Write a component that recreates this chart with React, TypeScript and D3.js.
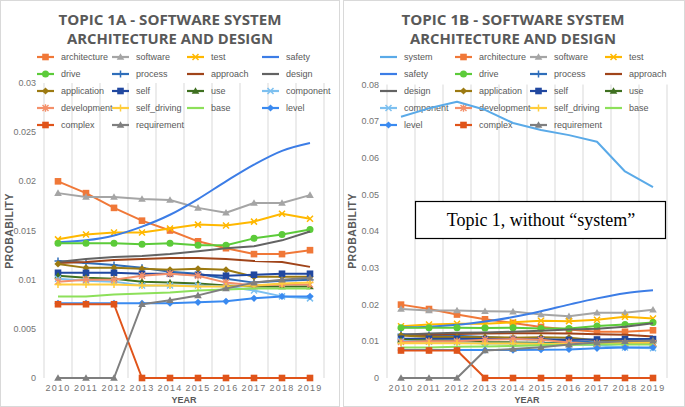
import React from "react";
import * as d3 from "d3";

const years = [2010, 2011, 2012, 2013, 2014, 2015, 2016, 2017, 2018, 2019];

const system = [0.0712, 0.0735, 0.0753, 0.0731, 0.0695, 0.0676, 0.0662, 0.0644, 0.0563, 0.052];
const architecture = [0.02, 0.0188, 0.0173, 0.016, 0.015, 0.0139, 0.0132, 0.0126, 0.0126, 0.013];
const software = [0.0188, 0.0184, 0.0184, 0.0182, 0.0181, 0.0173, 0.0168, 0.0178, 0.0178, 0.0186];
const test = [0.0141, 0.0146, 0.0148, 0.0148, 0.0152, 0.0156, 0.0155, 0.0159, 0.0167, 0.0162];
const safety = [0.0138, 0.014, 0.0145, 0.0154, 0.0166, 0.0182, 0.02, 0.0217, 0.0231, 0.0239];
const drive = [0.0137, 0.0137, 0.0137, 0.0136, 0.0137, 0.0135, 0.0135, 0.0142, 0.0146, 0.0151];
const processV = [0.0119, 0.0117, 0.0115, 0.0112, 0.0108, 0.0106, 0.0101, 0.0097, 0.0099, 0.01];
const approach = [0.0117, 0.0118, 0.012, 0.0121, 0.0122, 0.0122, 0.0121, 0.0119, 0.0118, 0.0113];
const design = [0.0118, 0.0121, 0.0123, 0.0124, 0.0126, 0.0129, 0.0132, 0.0134, 0.014, 0.0149];
const application = [0.0116, 0.0112, 0.0112, 0.0111, 0.011, 0.0111, 0.011, 0.0103, 0.0103, 0.0103];
const self = [0.0107, 0.0107, 0.0107, 0.0106, 0.0106, 0.0105, 0.0104, 0.0105, 0.0106, 0.0106];
const use = [0.0104, 0.0102, 0.0101, 0.0098, 0.0097, 0.0096, 0.0094, 0.0093, 0.0093, 0.0093];
const component = [0.0101, 0.0099, 0.0098, 0.0094, 0.0094, 0.0094, 0.0093, 0.0089, 0.0083, 0.0081];
const development = [0.0098, 0.01, 0.01, 0.0104, 0.0106, 0.0104, 0.0097, 0.0094, 0.0095, 0.0095];
const selfDriving = [0.0095, 0.0095, 0.0095, 0.0094, 0.0094, 0.0093, 0.0093, 0.0094, 0.0096, 0.0097];
const base = [0.0083, 0.0083, 0.0085, 0.0086, 0.0087, 0.0089, 0.009, 0.0091, 0.0091, 0.0091];
const level = [0.0076, 0.0076, 0.0076, 0.0076, 0.0076, 0.0077, 0.0078, 0.0081, 0.0083, 0.0083];
const complex = [0.0075, 0.0075, 0.0075, 0, 0, 0, 0, 0, 0, 0];
const requirement = [0, 0, 0, 0.0075, 0.0079, 0.0084, 0.0091, 0.0097, 0.01, 0.0102];

const leftTicks = [0, 0.005, 0.01, 0.015, 0.02, 0.025, 0.03];
const rightTicks = [0, 0.01, 0.02, 0.03, 0.04, 0.05, 0.06, 0.07, 0.08];

type S = { name: string; values: number[] };
const topicSeries: S[] = [
  { name: "architecture", values: architecture },
  { name: "software", values: software },
  { name: "test", values: test },
  { name: "safety", values: safety },
  { name: "drive", values: drive },
  { name: "process", values: processV },
  { name: "approach", values: approach },
  { name: "design", values: design },
  { name: "application", values: application },
  { name: "self", values: self },
  { name: "use", values: use },
  { name: "component", values: component },
  { name: "development", values: development },
  { name: "self_driving", values: selfDriving },
  { name: "base", values: base },
  { name: "level", values: level },
  { name: "complex", values: complex },
  { name: "requirement", values: requirement },
];
const systemSeries: S = { name: "system", values: system };

const styles: Record<string, { color: string; marker: string; smooth?: boolean }> = {
  system: { color: "#5AAAE8", marker: "none" },
  architecture: { color: "#F07838", marker: "square" },
  software: { color: "#A5A5A5", marker: "triangle" },
  test: { color: "#FFB800", marker: "x" },
  safety: { color: "#3C7DE6", marker: "none", smooth: true },
  drive: { color: "#5CCB3A", marker: "circle" },
  process: { color: "#2F6EBA", marker: "plus" },
  approach: { color: "#A0441A", marker: "none" },
  design: { color: "#636363", marker: "none" },
  application: { color: "#9C7A12", marker: "diamond" },
  self: { color: "#2148A0", marker: "square" },
  use: { color: "#3F7020", marker: "triangle" },
  component: { color: "#7DC0F0", marker: "x" },
  development: { color: "#F4906A", marker: "star" },
  self_driving: { color: "#FFCD3C", marker: "plus" },
  base: { color: "#8DE05A", marker: "none" },
  level: { color: "#3A8AF0", marker: "diamond" },
  complex: { color: "#E0541A", marker: "square" },
  requirement: { color: "#7F7F7F", marker: "triangle" },
};

const GRAY = "#595959";
const TICK = "#737373";

function Marker({ type, x, y, color }: { type: string; x: number; y: number; color: string }) {
  const s = 3.3;
  switch (type) {
    case "square":
      return <rect x={x - s} y={y - s} width={2 * s} height={2 * s} fill={color} />;
    case "circle":
      return <circle cx={x} cy={y} r={3.5} fill={color} />;
    case "triangle":
      return <path d={`M${x},${y - 3.8}L${x + 3.8},${y + 2.8}L${x - 3.8},${y + 2.8}Z`} fill={color} />;
    case "diamond":
      return <path d={`M${x},${y - 3.6}L${x + 3.6},${y}L${x},${y + 3.6}L${x - 3.6},${y}Z`} fill={color} />;
    case "x":
      return (
        <path d={`M${x - 3},${y - 3}L${x + 3},${y + 3}M${x - 3},${y + 3}L${x + 3},${y - 3}`} stroke={color} strokeWidth={1.5} />
      );
    case "plus":
      return <path d={`M${x - 3.5},${y}L${x + 3.5},${y}M${x},${y - 3.5}L${x},${y + 3.5}`} stroke={color} strokeWidth={1.5} />;
    case "star":
      return (
        <path
          d={`M${x - 3},${y - 3}L${x + 3},${y + 3}M${x - 3},${y + 3}L${x + 3},${y - 3}M${x},${y - 3.8}L${x},${y + 3.8}`}
          stroke={color}
          strokeWidth={1.4}
        />
      );
    default:
      return null;
  }
}

type PanelProps = {
  x0: number;
  w: number;
  letter: string;
  series: S[];
  legendOrder: S[];
  ticks: number[];
  yMax: number;
  yTop: number;
  showBox?: boolean;
};

function Panel({ x0, w, letter, series, legendOrder, ticks, yMax, yTop, showBox }: PanelProps) {
  const plotL = x0 + 44;
  const plotR = plotL + 280;
  const yBottom = 378;
  const xb = d3.scaleBand<number>().domain(years).range([plotL, plotR]).padding(0);
  const xp = (yr: number) => (xb(yr) as number) + xb.bandwidth() / 2;
  const y = d3.scaleLinear().domain([0, yMax]).range([yBottom, yTop]);
  const edges = years.map((yr) => xb(yr) as number).concat([plotR]);
  const cx = x0 + 170;

  return (
    <g>
      <rect x={x0 + 0.5} y={0.5} width={w - 1} height={406} fill="#fff" stroke="#D9D9D9" />
      {edges.map((e, i) => (
        <line key={i} x1={e} x2={e} y1={y(yMax)} y2={yBottom} stroke="#D9D9D9" strokeWidth={1} />
      ))}
      <text
        x={cx}
        y={24.5}
        textAnchor="middle"
        fontFamily="Open Sans"
        fontWeight="bold"
        fontSize={14.5}
        fill={GRAY}
        textLength={223}
        lengthAdjust="spacingAndGlyphs"
      >
        {`TOPIC 1${letter} - SOFTWARE SYSTEM`}
      </text>
      <text
        x={cx}
        y={44}
        textAnchor="middle"
        fontFamily="Open Sans"
        fontWeight="bold"
        fontSize={14.5}
        fill={GRAY}
        textLength={206}
        lengthAdjust="spacingAndGlyphs"
      >
        ARCHITECTURE AND DESIGN
      </text>
      {ticks.map((t) => (
        <text
          key={t}
          x={plotL - 8}
          y={y(t)}
          dy="0.35em"
          textAnchor="end"
          fontFamily="Liberation Sans"
          fontSize={9}
          fill={TICK}
        >
          {String(t)}
        </text>
      ))}
      {years.map((yr) => (
        <text
          key={yr}
          x={xp(yr)}
          y={391}
          textAnchor="middle"
          fontFamily="Liberation Sans"
          fontSize={9}
          letterSpacing={1.2}
          fill={TICK}
        >
          {yr}
        </text>
      ))}
      <text x={(plotL + plotR) / 2} y={403} textAnchor="middle" fontFamily="Liberation Sans" fontWeight="bold" fontSize={9} fill={GRAY}>
        YEAR
      </text>
      <text
        transform={`translate(${x0 + 13},231) rotate(-90)`}
        textAnchor="middle"
        fontFamily="Liberation Sans"
        fontWeight="bold"
        fontSize={10.5}
        letterSpacing={0.4}
        fill={GRAY}
      >
        PROBABILITY
      </text>
      {legendOrder.map((s, i) => {
        const col = i % 4;
        const row = Math.floor(i / 4);
        const lx = x0 + 37 + col * 75;
        const ly = 57 + row * 17;
        const st = styles[s.name];
        return (
          <g key={s.name}>
            <line x1={lx} x2={lx + 17} y1={ly} y2={ly} stroke={st.color} strokeWidth={2.2} />
            <Marker type={st.marker} x={lx + 8.5} y={ly} color={st.color} />
            <text x={lx + 24} y={ly} dy="0.35em" fontFamily="Liberation Sans" fontSize={9} fill={GRAY}>
              {s.name}
            </text>
          </g>
        );
      })}
      {series.map((s) => {
        const st = styles[s.name];
        const gen = d3
          .line<number>()
          .x((_, i) => xp(years[i]))
          .y((v) => y(v))
          .curve(st.smooth ? d3.curveMonotoneX : d3.curveLinear);
        return (
          <g key={s.name}>
            <path d={gen(s.values) || ""} fill="none" stroke={st.color} strokeWidth={2} strokeLinejoin="round" />
            {s.values.map((v, i) => (
              <Marker key={i} type={st.marker} x={xp(years[i])} y={y(v)} color={st.color} />
            ))}
          </g>
        );
      })}
      {showBox && (
        <g>
          <rect x={415.5} y={201.5} width={250} height={37} fill="#fff" stroke="#000" strokeWidth={1.2} />
          <text x={541} y={226} textAnchor="middle" fontFamily="Liberation Serif" fontSize={18} fill="#000">
            Topic 1, without “system”
          </text>
        </g>
      )}
    </g>
  );
}

export default function App() {
  return (
    <svg
      width={685}
      height={407}
      style={{ position: "absolute", left: 0, top: 0, display: "block", background: "#fff" }}
    >
      <Panel
        x0={0}
        w={340}
        letter="A"
        series={topicSeries}
        legendOrder={topicSeries}
        ticks={leftTicks}
        yMax={0.03}
        yTop={83}
      />
      <Panel
        x0={343}
        w={342}
        letter="B"
        series={[systemSeries, ...topicSeries]}
        legendOrder={[systemSeries, ...topicSeries]}
        ticks={rightTicks}
        yMax={0.08}
        yTop={84.5}
        showBox
      />
    </svg>
  );
}
